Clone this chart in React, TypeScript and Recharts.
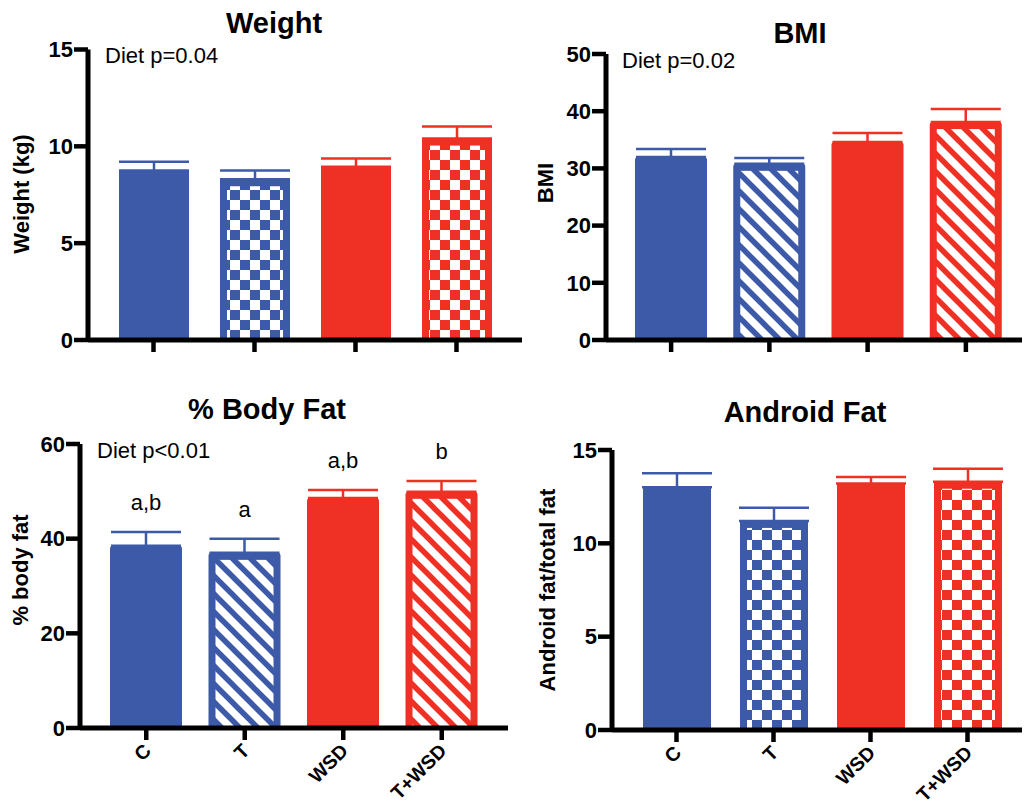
import { BarChart, Bar, XAxis, YAxis, ErrorBar } from "recharts";

const GROUPS = ["C", "T", "WSD", "T+WSD"];

const weightMean = [8.75, 8.3, 8.95, 10.4];
const weightErr = [0.45, 0.45, 0.42, 0.62];
const weightTicks = [0, 5, 10, 15];

const bmiMean = [32.0, 30.8, 34.6, 38.1];
const bmiErr = [1.4, 1.0, 1.6, 2.3];
const bmiTicks = [0, 10, 20, 30, 40, 50];

const fatMean = [38.5, 37.0, 48.6, 49.9];
const fatErr = [2.9, 3.0, 1.7, 2.3];
const fatLetters = ["a,b", "a", "a,b", "b"];
const fatTicks = [0, 20, 40, 60];

const androidMean = [13.0, 11.2, 13.2, 13.3];
const androidErr = [0.75, 0.7, 0.35, 0.7];
const androidTicks = [0, 5, 10, 15];

const FONT = '"Liberation Sans", Arial, Helvetica, sans-serif';
const BLUE = "#3D5AA8";
const RED = "#EE3124";
const HATCHED = ["T", "T+WSD"];
const RED_GROUPS = ["WSD", "T+WSD"];

// one row per group; blue/red split so each colour gets its own error bar
function buildRows(mean: number[], err: number[], letters?: string[]) {
  return GROUPS.map((g, i) => {
    const red = RED_GROUPS.includes(g);
    return {
      name: g,
      blue: red ? null : mean[i],
      red: red ? mean[i] : null,
      blueErr: red ? null : [0, err[i]],
      redErr: red ? [0, err[i]] : null,
      mean: mean[i],
      err: err[i],
      letter: letters ? letters[i] : "",
    };
  });
}

function barPath(x: number, y: number, w: number, h: number, r: number) {
  if (!r) return `M${x},${y}h${w}v${h}h${-w}Z`;
  return `M${x},${y + h}L${x},${y + r}Q${x},${y} ${x + r},${y}L${x + w - r},${y}Q${x + w},${y} ${x + w},${y + r}L${x + w},${y + h}Z`;
}

const barShape = (color: string, patternId: string, radius: number) => (props: any) => {
  const { x, y, width, height, payload } = props;
  if (!height || height <= 0 || !payload) return <g />;
  const b = 7;
  const hatched = HATCHED.includes(payload.name);
  const errTop = y - (payload.err / payload.mean) * height;
  return (
    <g>
      <path d={barPath(x, y, width, height, radius)} fill={color} />
      {hatched && (
        <rect x={x + b} y={y + b} width={width - 2 * b} height={height - b} fill={`url(#${patternId})`} />
      )}
      {payload.letter && (
        <text x={x + width / 2} y={errTop - 22} textAnchor="middle" fontSize={22} fontFamily={FONT} fill="#000">
          {payload.letter}
        </text>
      )}
    </g>
  );
};

const NoTick = () => <g />;

const RotatedTick = (props: any) => {
  const { x, y, payload } = props;
  const ax = x + 6;
  const ay = y + 10;
  return (
    <text
      x={ax}
      y={ay}
      transform={`rotate(-45 ${ax} ${ay})`}
      textAnchor="end"
      fill="#000"
      fontSize={19.5}
      fontWeight="bold"
      fontFamily={FONT}
    >
      {payload.value}
    </text>
  );
};

function Panel(p: any) {
  return (
    <div style={{ position: "absolute", left: p.left, top: p.top }}>
      <BarChart width={p.width} height={p.height} data={p.data} margin={p.margin} barSize={p.barSize}>
        <XAxis
          dataKey="name"
          interval={0}
          height={p.xHeight}
          padding={p.pad}
          axisLine={{ stroke: "#000", strokeWidth: 5 }}
          tickLine={{ stroke: "#000", strokeWidth: 4.5 }}
          tickSize={12}
          tickMargin={2}
          tick={p.xLabels ? RotatedTick : NoTick}
        />
        <YAxis
          type="number"
          domain={p.domain}
          ticks={p.ticks}
          interval={0}
          width={p.yWidth}
          axisLine={{ stroke: "#000", strokeWidth: 5 }}
          tickLine={{ stroke: "#000", strokeWidth: 4.5 }}
          tickSize={14}
          tickMargin={1}
          tick={{ fill: "#000", fontSize: 22, fontWeight: "bold", fontFamily: FONT }}
        />
        <Bar dataKey="blue" stackId="g" shape={barShape(BLUE, `${p.pattern}-blue`, p.radius)} isAnimationActive={false}>
          <ErrorBar dataKey="blueErr" width={35} strokeWidth={2.5} stroke={BLUE} isAnimationActive={false} />
        </Bar>
        <Bar dataKey="red" stackId="g" shape={barShape(RED, `${p.pattern}-red`, p.radius)} isAnimationActive={false}>
          <ErrorBar dataKey="redErr" width={35} strokeWidth={2.5} stroke={RED} isAnimationActive={false} />
        </Bar>
      </BarChart>
    </div>
  );
}

function Patterns() {
  const check = (id: string, c: string) => (
    <pattern id={id} width={20} height={20} patternUnits="userSpaceOnUse">
      <rect width={20} height={20} fill="#fff" />
      <rect width={10} height={10} fill={c} />
      <rect x={10} y={10} width={10} height={10} fill={c} />
    </pattern>
  );
  const stripe = (id: string, c: string) => (
    <pattern id={id} width={18} height={18} patternUnits="userSpaceOnUse">
      <rect width={18} height={18} fill="#fff" />
      <path d="M0,0L18,18M-9,9L9,27M9,-9L27,9" stroke={c} strokeWidth={5.5} />
    </pattern>
  );
  return (
    <defs>
      {check("check-blue", BLUE)}
      {check("check-red", RED)}
      {stripe("stripe-blue", BLUE)}
      {stripe("stripe-red", RED)}
    </defs>
  );
}

const titleStyle = { fontSize: 29, fontWeight: "bold", fontFamily: FONT, fill: "#000" } as const;
const noteStyle = { fontSize: 22, fontFamily: FONT, fill: "#000" } as const;
const yLabelStyle = { fontSize: 22, fontWeight: "bold", fontFamily: FONT, fill: "#000" } as const;

export default function App() {
  return (
    <div style={{ position: "absolute", left: 0, top: 0, width: 1025, height: 807, background: "#fff", overflow: "hidden" }}>
      <svg width={0} height={0} style={{ position: "absolute" }}>
        <Patterns />
      </svg>

      <Panel
        data={buildRows(weightMean, weightErr)}
        left={0} top={0} width={530} height={380}
        margin={{ top: 49.5, right: 8, bottom: 20, left: 0 }}
        yWidth={88} xHeight={20} pad={{ left: 15, right: 15 }} barSize={70}
        domain={[0, 15]} ticks={weightTicks} pattern="check" radius={0} xLabels={false}
      />
      <Panel
        data={buildRows(bmiMean, bmiErr)}
        left={512} top={0} width={513} height={380}
        margin={{ top: 54, right: 3, bottom: 20, left: 0 }}
        yWidth={94} xHeight={20} pad={{ left: 16, right: 7 }} barSize={72}
        domain={[0, 50]} ticks={bmiTicks} pattern="stripe" radius={3} xLabels={false}
      />
      <Panel
        data={buildRows(fatMean, fatErr, fatLetters)}
        left={0} top={380} width={512} height={427}
        margin={{ top: 64, right: 4, bottom: 9, left: 0 }}
        yWidth={80} xHeight={70} pad={{ left: 17, right: 17 }} barSize={72}
        domain={[0, 60]} ticks={fatTicks} pattern="stripe" radius={3} xLabels
      />
      <Panel
        data={buildRows(androidMean, androidErr)}
        left={512} top={380} width={513} height={427}
        margin={{ top: 70, right: 3, bottom: 7, left: 0 }}
        yWidth={100} xHeight={70} pad={{ left: 16, right: 6 }} barSize={68}
        domain={[0, 15]} ticks={androidTicks} pattern="check" radius={0} xLabels
      />

      <svg width={1025} height={807} style={{ position: "absolute", left: 0, top: 0, pointerEvents: "none" }}>
        <text x={274} y={33} textAnchor="middle" style={titleStyle}>Weight</text>
        <text x={800} y={43} textAnchor="middle" style={titleStyle}>BMI</text>
        <text x={267} y={419} textAnchor="middle" style={titleStyle}>% Body Fat</text>
        <text x={805} y={422} textAnchor="middle" style={titleStyle}>Android Fat</text>

        <text x={105} y={63} style={noteStyle}>Diet p=0.04</text>
        <text x={622} y={68} style={noteStyle}>Diet p=0.02</text>
        <text x={97} y={458} style={noteStyle}>Diet p&lt;0.01</text>

        <text transform="translate(29,194) rotate(-90)" textAnchor="middle" style={yLabelStyle}>Weight (kg)</text>
        <text transform="translate(553,183) rotate(-90)" textAnchor="middle" style={yLabelStyle}>BMI</text>
        <text transform="translate(28,570) rotate(-90)" textAnchor="middle" style={yLabelStyle}>% body fat</text>
        <text transform="translate(555,590) rotate(-90)" textAnchor="middle" style={yLabelStyle}>Android fat/total fat</text>
      </svg>
    </div>
  );
}
